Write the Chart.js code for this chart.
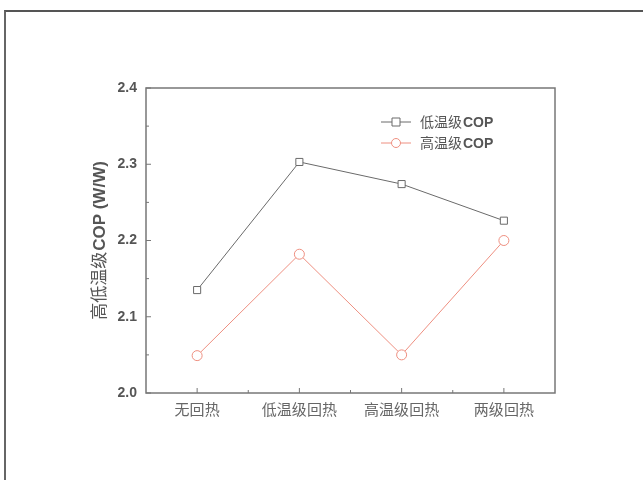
<!DOCTYPE html>
<html>
<head>
<meta charset="utf-8">
<script src="https://cdn.jsdelivr.net/npm/chart.js@4.4.0/dist/chart.umd.min.js"></script>
<style>
  html, body { margin: 0; padding: 0; background: #fff; }
  #wrap { position: relative; width: 643px; height: 480px; overflow: hidden; }
  #frame { position: absolute; left: 4px; top: 10px; width: 700px; height: 500px;
           border-top: 2px solid #555; border-left: 2px solid #666; }
  #c { position: absolute; left: 0; top: 0; }
</style>
</head>
<body>
<div id="wrap">
  <div id="frame"></div>
  <canvas id="c" width="643" height="480"></canvas>
</div>
<script>
// categories and series
var categories = ["无回热", "低温级回热", "高温级回热", "两级回热"];
var lowCOP = [2.135, 2.303, 2.274, 2.226];
var highCOP = [2.049, 2.182, 2.050, 2.200];
var yTicks = [2.0, 2.1, 2.2, 2.3, 2.4];
var seriesNames = ["低温级COP", "高温级COP"];
var yTitle = ["高低温级", "COP (W/W)"];

var axisColor = "#777";
var lowColor = "#6a6a6a";
var highColor = "#ee8f80";

// draws CJK part then bold latin part from x
function mixedText(ctx, cjk, latin, x, y, size) {
  ctx.font = size + "px 'Noto Sans CJK SC'";
  ctx.fillText(cjk, x, y);
  var w = ctx.measureText(cjk).width;
  ctx.font = "bold " + size + "px 'Liberation Sans'";
  ctx.fillText(latin, x + w + 1, y + 1);
  return w + 1 + ctx.measureText(latin).width;
}

// box, inward ticks, axis title and legend
var decor = {
  id: "decor",
  afterDraw: function(chart) {
    var ctx = chart.ctx;
    var a = chart.chartArea;
    var xs = chart.scales.x, ys = chart.scales.y;
    ctx.save();
    ctx.strokeStyle = axisColor;
    ctx.lineWidth = 1.5;
    ctx.strokeRect(a.left, a.top, a.right - a.left, a.bottom - a.top);

    ctx.lineWidth = 1;
    for (var i = 0; i < yTicks.length; i++) {
      var py = ys.getPixelForValue(yTicks[i]);
      ctx.beginPath(); ctx.moveTo(a.left, py); ctx.lineTo(a.left + 5, py); ctx.stroke();
      if (i < yTicks.length - 1) {
        var pm = ys.getPixelForValue(yTicks[i] + 0.05);
        ctx.beginPath(); ctx.moveTo(a.left, pm); ctx.lineTo(a.left + 3, pm); ctx.stroke();
      }
    }
    for (var j = 0; j < categories.length; j++) {
      var px = xs.getPixelForValue(j);
      ctx.beginPath(); ctx.moveTo(px, a.bottom); ctx.lineTo(px, a.bottom - 5); ctx.stroke();
      if (j < categories.length - 1) {
        var mx = (px + xs.getPixelForValue(j + 1)) / 2;
        ctx.beginPath(); ctx.moveTo(mx, a.bottom); ctx.lineTo(mx, a.bottom - 3); ctx.stroke();
      }
    }

    // y axis title, rotated
    ctx.save();
    ctx.translate(99, (a.top + a.bottom) / 2);
    ctx.rotate(-Math.PI / 2);
    ctx.fillStyle = "#555";
    ctx.textBaseline = "middle";
    ctx.font = "17px 'Noto Sans CJK SC'";
    var w1 = ctx.measureText(yTitle[0]).width;
    ctx.font = "bold 17px 'Liberation Sans'";
    var w2 = ctx.measureText(yTitle[1]).width;
    mixedText(ctx, yTitle[0], yTitle[1], -(w1 + w2 + 1) / 2, 0, 17);
    ctx.restore();

    // legend
    var rows = [
      { name: seriesNames[0], color: lowColor, style: "rect", y: 122 },
      { name: seriesNames[1], color: highColor, style: "circle", y: 143 }
    ];
    rows.forEach(function(r) {
      ctx.strokeStyle = r.color;
      ctx.lineWidth = 1;
      ctx.beginPath(); ctx.moveTo(381, r.y); ctx.lineTo(411, r.y); ctx.stroke();
      ctx.fillStyle = "#fff";
      ctx.beginPath();
      if (r.style === "rect") { ctx.rect(392, r.y - 4, 8, 8); }
      else { ctx.arc(396, r.y, 4.5, 0, Math.PI * 2); }
      ctx.fill(); ctx.stroke();
      ctx.fillStyle = "#555";
      ctx.textBaseline = "middle";
      mixedText(ctx, r.name.slice(0, 3), r.name.slice(3), 420, r.y, 14);
    });
    ctx.restore();
  }
};

new Chart(document.getElementById("c"), {
  type: "line",
  data: {
    labels: categories,
    datasets: [
      {
        label: seriesNames[0],
        data: lowCOP,
        borderColor: lowColor,
        borderWidth: 1,
        pointStyle: "rect",
        pointRadius: 5,
        pointBackgroundColor: "#fff",
        pointBorderColor: lowColor,
        pointBorderWidth: 1,
        tension: 0
      },
      {
        label: seriesNames[1],
        data: highCOP,
        borderColor: highColor,
        borderWidth: 1,
        pointStyle: "circle",
        pointRadius: 5,
        pointBackgroundColor: "#fff",
        pointBorderColor: highColor,
        pointBorderWidth: 1,
        tension: 0
      }
    ]
  },
  options: {
    responsive: false,
    animation: false,
    layout: { padding: { top: 88, right: 88, left: 0, bottom: 0 } },
    plugins: { legend: { display: false }, tooltip: { enabled: false } },
    scales: {
      x: {
        type: "category",
        offset: true,
        grid: { display: false, drawTicks: false },
        border: { display: false },
        ticks: { color: "#666", padding: 7, font: { family: "'Noto Sans CJK SC'", size: 15 } },
        afterFit: function(s) { s.height = 87; }
      },
      y: {
        min: 2.0,
        max: 2.4,
        afterBuildTicks: function(s) { s.ticks = yTicks.map(function(v) { return { value: v }; }); },
        grid: { display: false, drawTicks: false },
        border: { display: false },
        ticks: {
          color: "#555",
          padding: 9,
          font: { family: "'Liberation Sans'", size: 14, weight: "bold" },
          callback: function(v) { return Number(v).toFixed(1); }
        },
        afterFit: function(s) { s.width = 146; }
      }
    }
  },
  plugins: [decor]
});
</script>
</body>
</html>
